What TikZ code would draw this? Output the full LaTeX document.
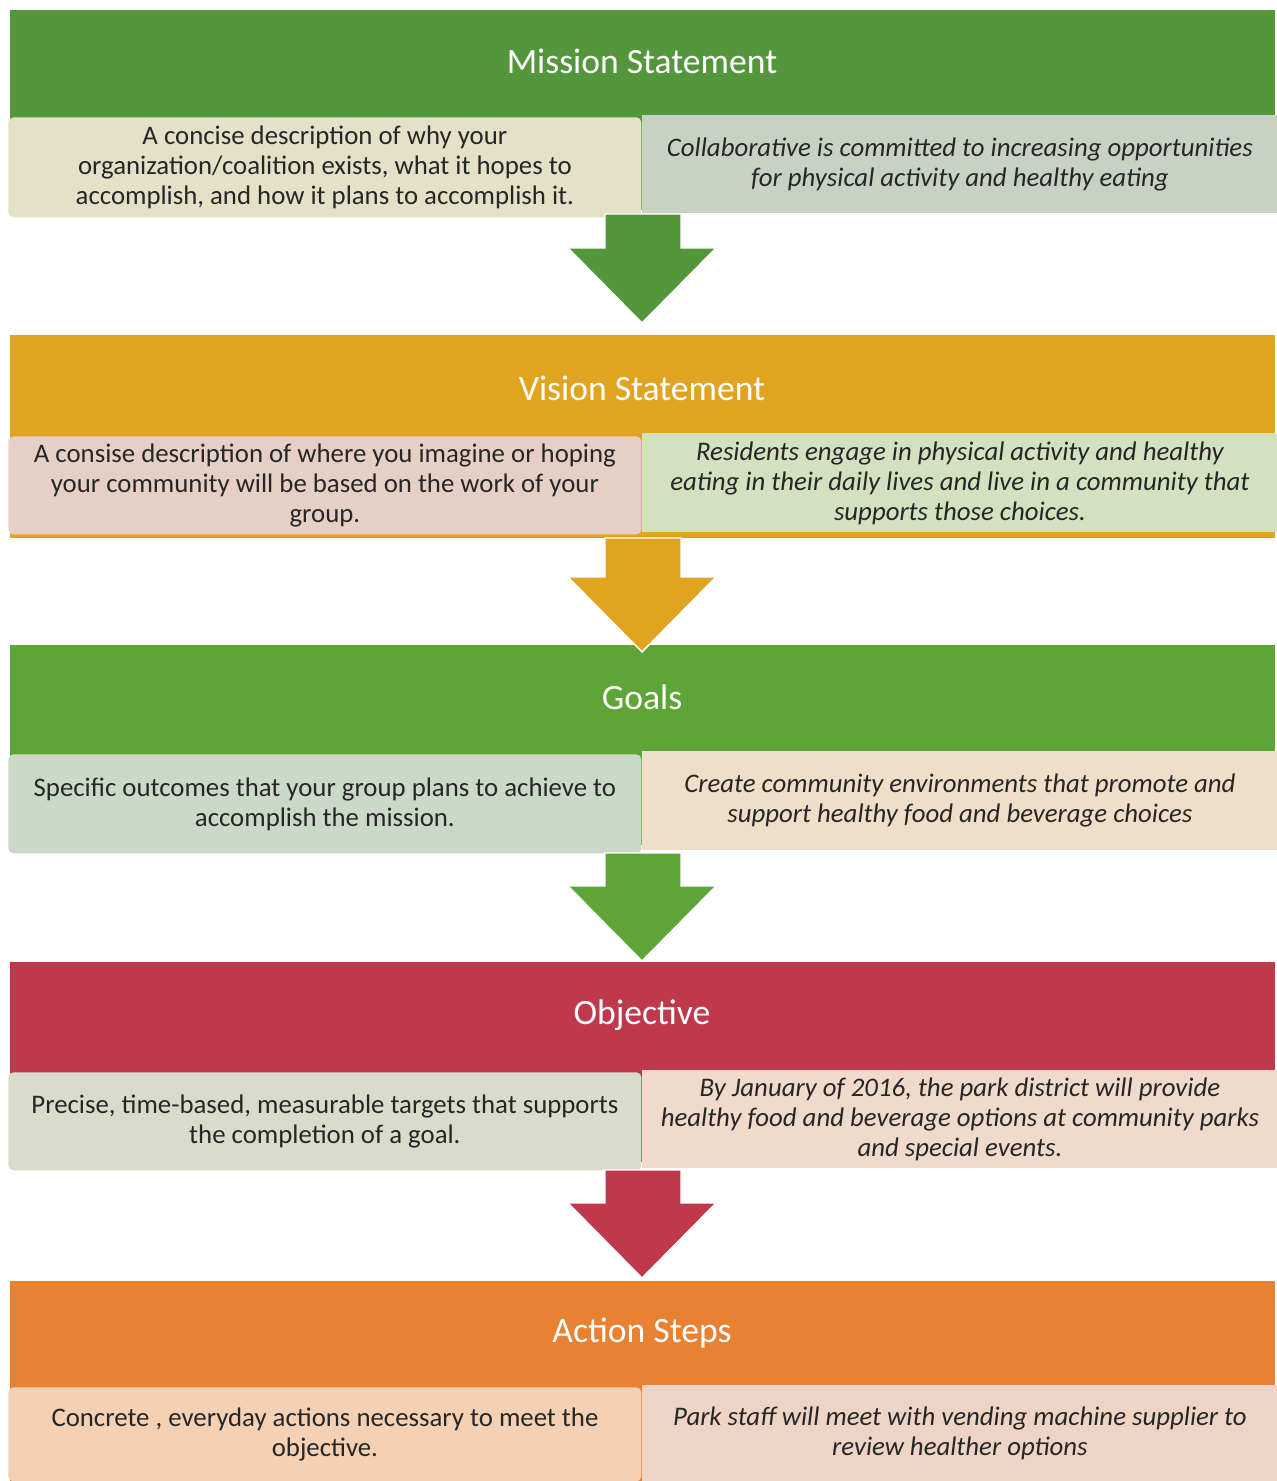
\documentclass[tikz,border=0pt]{standalone}
\usepackage{fontspec}
\setmainfont{Carlito}
\usetikzlibrary{calc}
\definecolor{gA}{HTML}{54963B}
\definecolor{oB}{HTML}{E1A420}
\definecolor{gC}{HTML}{5EA537}
\definecolor{rD}{HTML}{C0384B}
\definecolor{oE}{HTML}{E88132}
\definecolor{txt}{HTML}{262626}
\definecolor{mL}{HTML}{E4E1C8}
\definecolor{mR}{HTML}{C8D2C4}
\definecolor{vL}{HTML}{E6D0C6}
\definecolor{vR}{HTML}{D3E1C0}
\definecolor{gL}{HTML}{CBDAC8}
\definecolor{gR}{HTML}{EFDFC9}
\definecolor{bL}{HTML}{DADCCB}
\definecolor{bR}{HTML}{F0DACB}
\definecolor{aL}{HTML}{F4D0B4}
\definecolor{aR}{HTML}{EED4C5}
\tikzset{
  band/.style={anchor=north west, minimum width=632.5pt, inner sep=0pt, outer sep=0pt},
  headtext/.style={text=white, font=\fontsize{17.8}{20}\selectfont, inner sep=0pt},
  lbox/.style={anchor=north west, rounded corners=2.5pt, minimum width=316.5pt, inner sep=0pt,
    align=center, text=txt, font=\fontsize{13.4}{15}\selectfont},
  rbox/.style={anchor=north west, minimum width=317.5pt, inner sep=0pt,
    align=center, text=txt, font=\fontsize{13.4}{15}\selectfont\itshape},
  blockarrow/.style={draw=white, line width=0.7pt, line join=miter}
}
\newcommand\flowarrow[3]{%
  \fill[#3, blockarrow] ($(#1)+(-37,0)$) -- ($(#1)+(39,0)$) -- ($(#2)+(39,-75)$) -- ($(#2)+(74,-75)$)
    -- (#2) -- ($(#2)+(-74,-75)$) -- ($(#2)+(-37,-75)$) -- cycle;}
\begin{document}
\begin{tikzpicture}[x=0.5pt,y=-0.5pt]
\useasboundingbox (0,0) rectangle (1277,1481);
\fill[white] (0,0) rectangle (1277,1481);

% ---------- Mission ----------
\node[band, fill=gA, minimum height=100pt] (mband) at (10,10) {};
\node[headtext] (mhead) at (642,61) {Mission Statement};
\node[lbox, fill=mL, minimum height=50pt] (mleft) at (8,117)
  {A concise description of why your\\organization/coalition exists, what it hopes to\\accomplish, and how it plans to accomplish it.};
\node[rbox, fill=mR, minimum height=49pt] (mright) at (642,115)
  {Collaborative is committed to increasing opportunities\\for physical activity and healthy eating};

% ---------- Vision ----------
\node[band, fill=oB, minimum height=101.5pt] (vband) at (10,335) {};
\node[headtext] (vhead) at (642,388) {Vision Statement};
\node[lbox, fill=vL, minimum height=49pt] (vleft) at (8,436)
  {A consise description of where you imagine or hoping\\your community will be based on the work of your\\group.};
\node[rbox, fill=vR, minimum height=49.5pt] (vright) at (642,433)
  {Residents engage in physical activity and healthy\\eating in their daily lives and live in a community that\\supports those choices.};

% ---------- Goals ----------
\node[band, fill=gC, minimum height=100pt] (gband) at (10,645) {};
\node[headtext] (ghead) at (642,697) {Goals};
\node[lbox, fill=gL, minimum height=49.5pt] (gleft) at (8,754)
  {Specific outcomes that your group plans to achieve to\\accomplish the mission.};
\node[rbox, fill=gR, minimum height=49.5pt] (gright) at (642,751)
  {Create community environments that promote and\\support healthy food and beverage choices};

% ---------- Objective ----------
\node[band, fill=rD, minimum height=100pt] (oband) at (10,962) {};
\node[headtext] (ohead) at (642,1015) {Objective};
\node[lbox, fill=bL, minimum height=49pt] (oleft) at (8,1072)
  {Precise, time-based, measurable targets that supports\\the completion of a goal.};
\node[rbox, fill=bR, minimum height=49pt] (oright) at (642,1070)
  {By January of 2016, the park district will provide\\healthy food and beverage options at community parks\\and special events.};

% ---------- Action Steps ----------
\node[band, fill=oE, minimum height=100pt] (aband) at (10,1281) {};
\node[headtext] (ahead) at (642,1333) {Action Steps};
\node[lbox, fill=aL, minimum height=47pt] (aleft) at (8,1387)
  {Concrete , everyday actions necessary to meet the\\objective.};
\node[rbox, fill=aR, minimum height=48pt] (aright) at (642,1385)
  {Park staff will meet with vending machine supplier to\\review healther options};

% ---------- Arrows ----------
\coordinate (a1s) at (642,214);
\coordinate (a1e) at (642,323);
\coordinate (a2s) at (642,538);
\coordinate (a2e) at (642,652);
\coordinate (a3s) at (642,853);
\coordinate (a3e) at (642,961);
\coordinate (a4s) at (642,1170);
\coordinate (a4e) at (642,1278);
\flowarrow{a1s}{a1e}{gA}
\flowarrow{a2s}{a2e}{oB}
\flowarrow{a3s}{a3e}{gC}
\flowarrow{a4s}{a4e}{rD}
\end{tikzpicture}
\end{document}
